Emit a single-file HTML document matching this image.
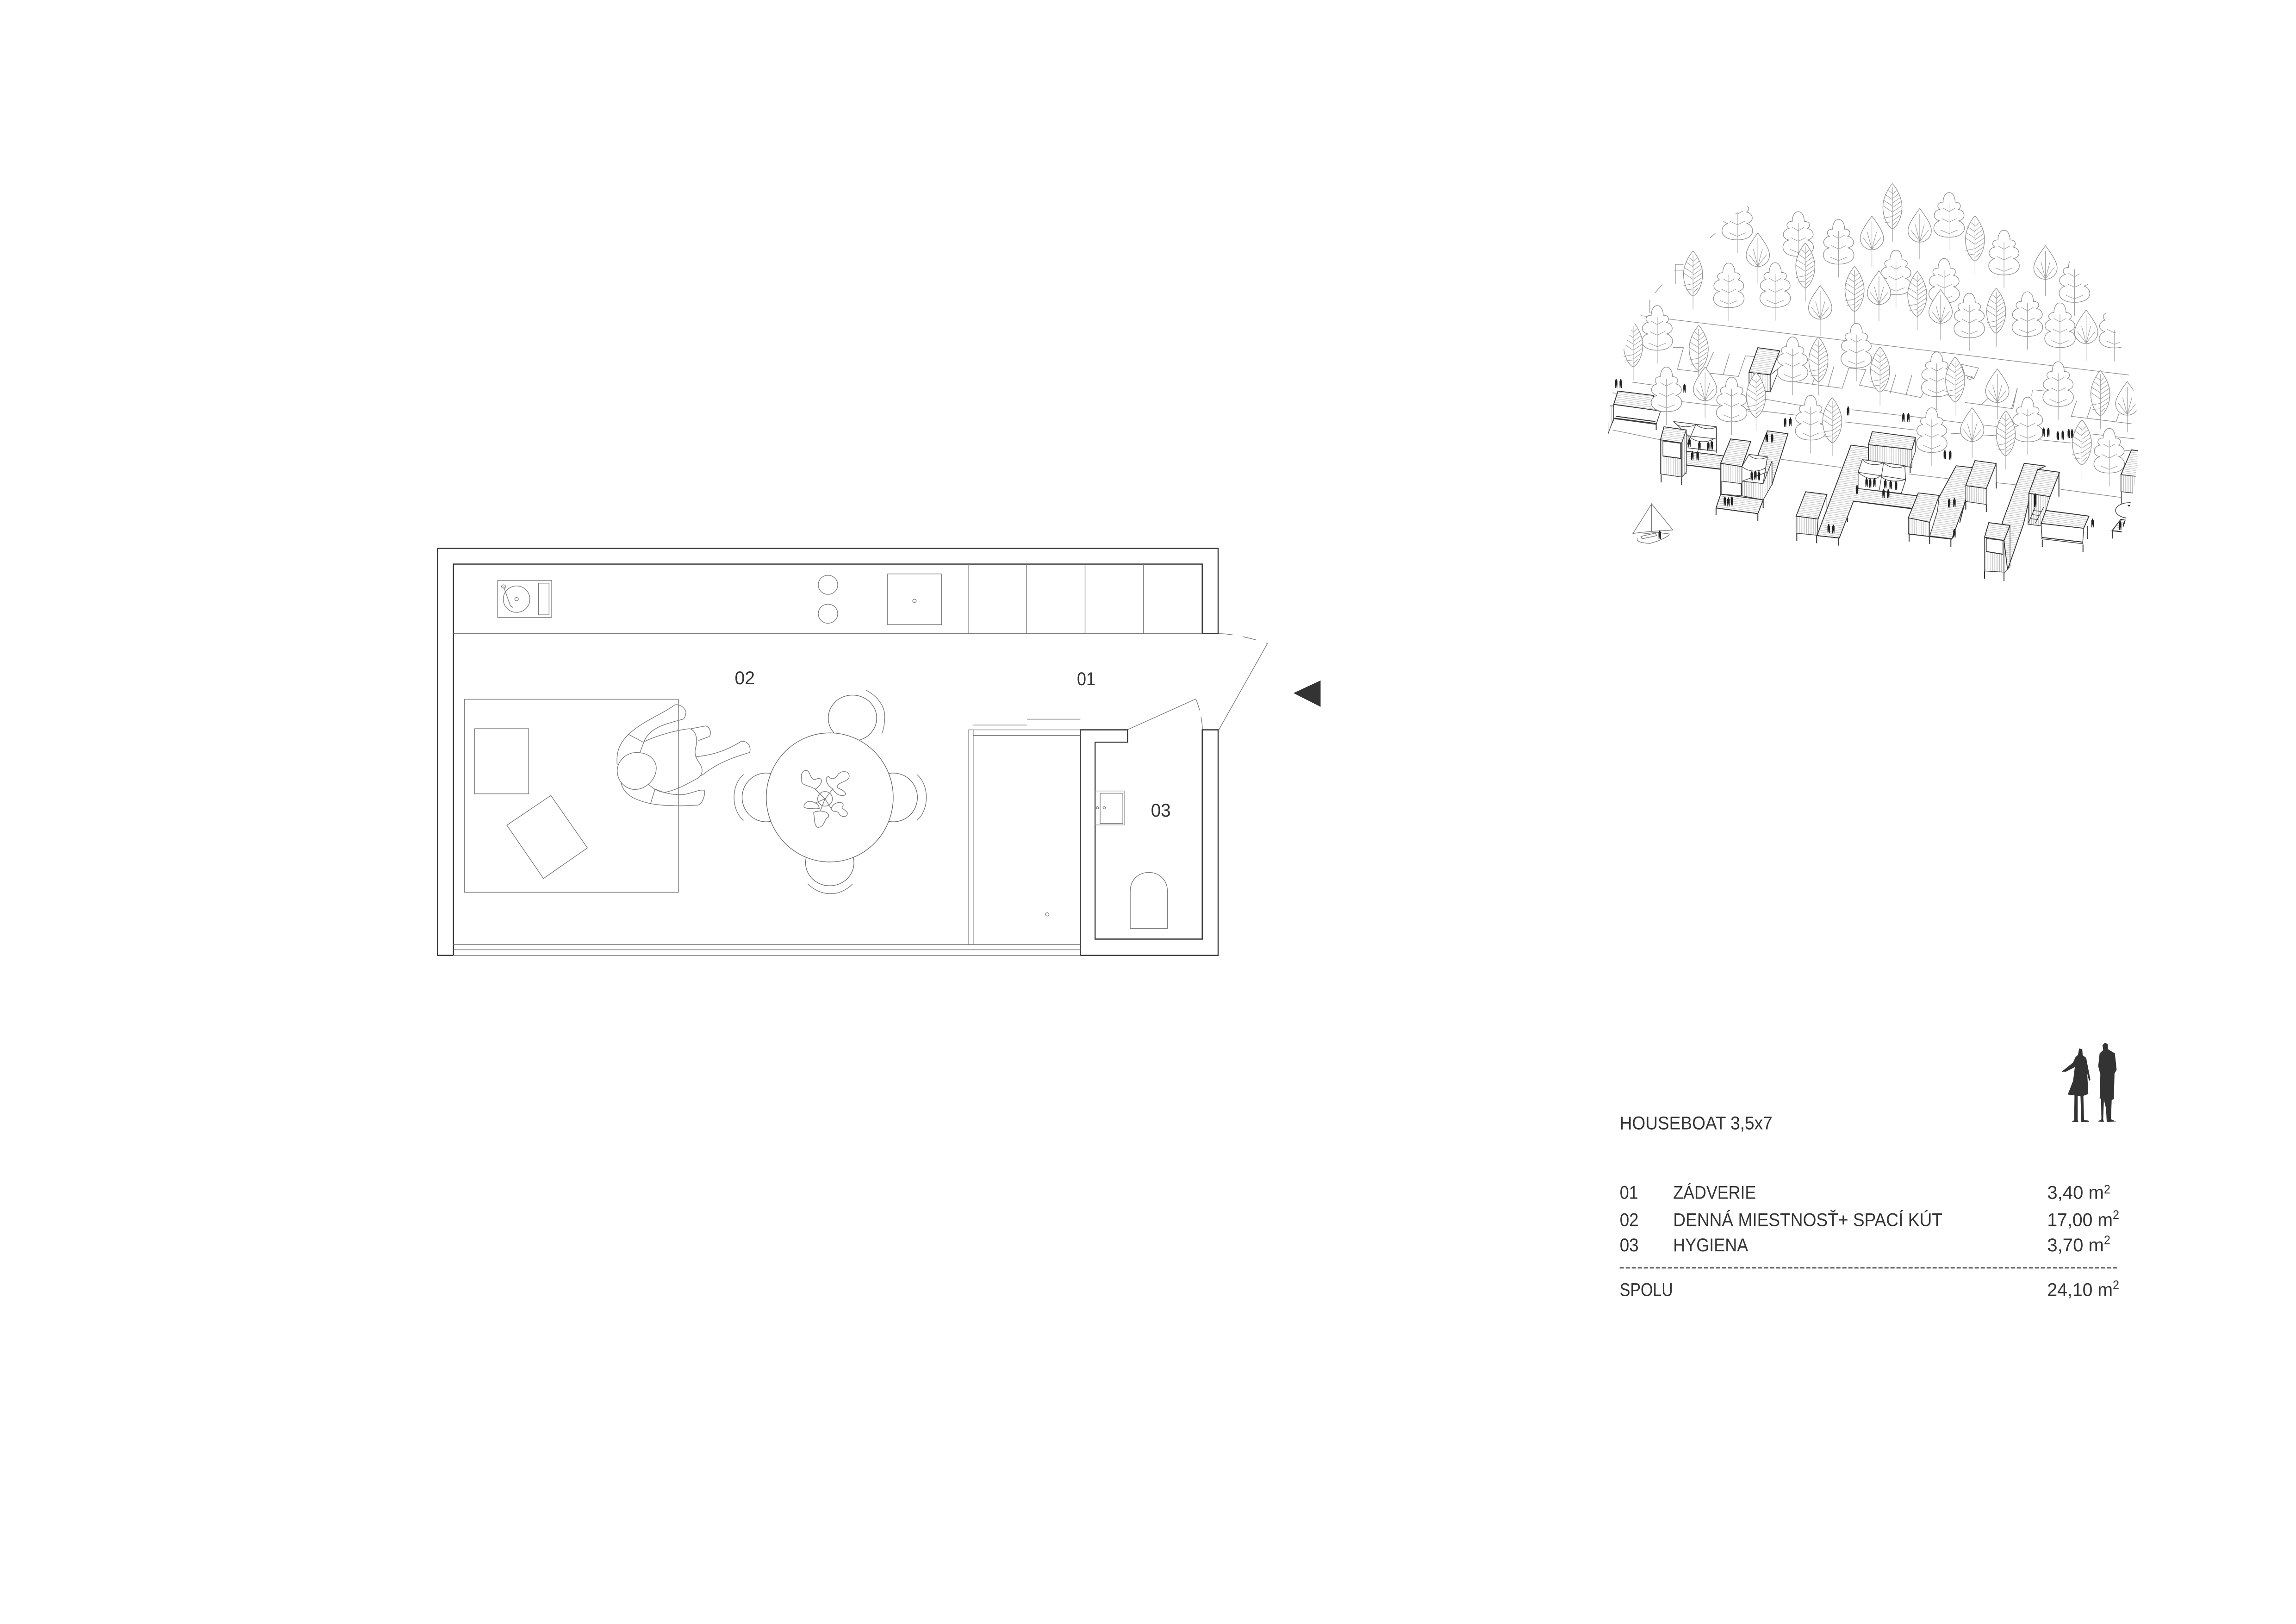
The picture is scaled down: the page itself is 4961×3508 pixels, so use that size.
<!DOCTYPE html>
<html><head><meta charset="utf-8"><title>Houseboat 3,5x7</title>
<style>
html,body{margin:0;padding:0;background:#fff}
svg{display:block}
svg *{vector-effect:non-scaling-stroke}
pattern *{vector-effect:none}
.t{font-family:"Liberation Sans",sans-serif;font-size:40px;fill:#333}
.s{font-family:"Liberation Sans",sans-serif;font-size:27px;fill:#333}
.k{fill:none;stroke:#333;stroke-width:2.4}
.l{fill:none;stroke:#777;stroke-width:1.4}
.g{fill:none;stroke:#aaa;stroke-width:1.5}
.c{fill:#fff;stroke:#666;stroke-width:1.4}
.tr{fill:#fff;stroke:#8c8c8c;stroke-width:1.3}
.tl{fill:none;stroke:#999;stroke-width:1.1}
.rd{fill:none;stroke:#8c8c8c;stroke-width:1.3}
.r{fill:url(#h);stroke:#333;stroke-width:1.8}
.w{fill:url(#v);stroke:#444;stroke-width:1.5}
.n{fill:#fff;stroke:#444;stroke-width:1.5}
.e{fill:none;stroke:#333;stroke-width:2}
.b{fill:none;stroke:#444;stroke-width:1.3}
.q{fill:#222}
</style></head><body>
<svg xmlns="http://www.w3.org/2000/svg" width="4961" height="3508" viewBox="0 0 4961 3508">
<defs>
<pattern id="h" patternUnits="userSpaceOnUse" width="40" height="11" patternTransform="skewY(15.6)"><rect width="40" height="11" fill="#fff"/><line x1="0" y1="5.5" x2="40" y2="5.5" stroke="#a8a8a8" stroke-width="2"/></pattern>
<pattern id="v" patternUnits="userSpaceOnUse" width="5" height="40"><rect width="5" height="40" fill="#fff"/><line x1="2.5" y1="0" x2="2.5" y2="40" stroke="#b4b4b4" stroke-width="1.2"/></pattern>
<clipPath id="dome"><circle cx="4047" cy="950" r="573"/></clipPath>
<g id="A">
<path class="tr" d="M0,0C-12,0-17,30-17,55C-30,52-38,78-26,95C-45,102-50,150-26,160C-50,170-55,252 0,252C55,252 50,170 26,160C50,150 45,102 26,95C38,78 30,52 17,55C17,30 12,0 0,0Z"/>
<path class="tl" d="M0,65V327M-17,88L0,107L17,88M-21,147L0,167L21,147M-24,212L0,232L24,212"/>
</g>
<g id="B">
<path class="tr" d="M0,0C-15,40-33,90-33,125C-33,165-15,190 0,190C15,190 33,165 33,125C33,90 15,40 0,0Z"/>
<path class="tl" d="M0,30V285M0,187L-25,122M0,187L25,122M0,187L-13,90M0,187L13,90"/>
</g>
<g id="C">
<path class="tr" d="M0,0C-14,30-27,85-27,130C-27,190-14,240 0,255C14,240 27,190 27,130C27,85 14,30 0,0Z"/>
<path class="tl" d="M0,20V330M0,55L-11,38M0,90L-21,60M0,125L-26,92M0,160L-26,125M0,185L-27,195M0,215L-22,220M0,60L11,38M0,85L18,55M0,110L22,78M0,135L25,100M0,160L26,125M0,185L26,150M0,210L22,178M0,235L14,210"/>
</g>
<path id="p" class="q" d="M-1.5,0H1.5L2,8L3.5,11L3.5,32L3,55H1.2L0,35L-1.2,55H-3L-3.5,32L-3.5,11L-2,8Z"/>
</defs>
<rect width="4961" height="3508" fill="#fff"/>

<!-- floor plan walls (real coordinates) -->
<path class="k" d="M979.7,2063.7H945.3V1184.5H2632V1368.7H2597.7V1218.5H979.7V2063.7"/>
<path class="k" d="M2334.3,2063.7H2632V1576.5H2597.7V2028.5H2366.2V1603.2H2436.4V1576.5H2334.3Z"/>
<path class="l" d="M979.7,1368.7H2597.7M979.7,2040.6H2334.3M979.7,2051.6H2334.3M979.7,2063.7H2334.3"/>

<g transform="translate(900 1150) scale(.63776 .60586)">
<rect class="l" x="275" y="171" width="183" height="132"/>
<rect class="l" x="413" y="181" width="36" height="113"/>
<ellipse class="l" cx="339" cy="238" rx="45" ry="47"/>
<ellipse class="l" cx="339" cy="238" rx="6" ry="6"/>
<ellipse class="l" cx="295" cy="193" rx="7" ry="6"/>
<path class="l" d="M295,193L318,262L327,268"/>
<ellipse class="l" cx="1394" cy="187" rx="33" ry="34"/>
<ellipse class="l" cx="1394" cy="290" rx="33" ry="34"/>
<rect class="l" x="162" y="595" width="725" height="688"/>
<rect class="l" x="197" y="700" width="183" height="232"/>
<path class="l" d="M455,938L579,1125L430,1234L306,1044Z"/>
<!-- person -->
<path class="l" d="M875,615C830,650 770,670 718,720C690,750 675,780 680,830M875,615C890,612 905,620 913,640C912,652 910,660 905,665C860,680 790,690 770,748L757,785M718,720L768,748"/>
<path class="l" d="M768,748C810,725 880,705 925,700C945,705 955,735 945,770C940,795 950,810 960,825C975,850 965,870 950,878C920,895 880,920 840,927C820,925 800,912 785,898"/>
<path class="l" d="M745,785C790,785 815,815 812,845C810,880 780,915 740,917C705,915 680,885 680,850C680,815 710,785 745,785Z"/>
<path class="l" d="M930,700L980,690C995,695 1000,715 992,728L955,742M947,800C990,795 1040,785 1100,745C1125,742 1135,770 1128,785C1080,800 1020,820 965,868"/>
<path class="l" d="M692,890C700,925 720,950 793,967C850,978 910,975 955,972C970,965 980,930 975,920C960,915 940,928 905,935C870,937 840,930 808,915M808,915L793,967"/>
<!-- chairs and table -->
<ellipse class="c" cx="1477" cy="662" rx="82" ry="82"/>
<ellipse class="c" cx="1400" cy="1178" rx="82" ry="82"/>
<ellipse class="c" cx="1185" cy="945" rx="82" ry="87"/>
<ellipse class="c" cx="1615" cy="945" rx="82" ry="87"/>
<ellipse class="c" cx="1400" cy="945" rx="215" ry="230"/>
<path class="l" d="M1522,562C1565,585 1590,625 1586,665C1585,690 1582,705 1576,717M1325,1253C1370,1300 1435,1300 1478,1253M1108,863C1065,900 1065,990 1108,1027M1695,863C1738,900 1738,990 1695,1027"/>
<!-- plant -->
<ellipse class="l" cx="1384" cy="950" rx="25" ry="26"/>
<path class="l" d="M1350,915C1330,900 1300,905 1305,880C1300,860 1310,845 1325,850C1335,860 1335,880 1350,882C1360,875 1375,875 1372,890C1365,905 1355,915 1350,915Z"/>
<path class="l" d="M1410,915C1385,895 1383,875 1395,870C1405,880 1415,885 1430,860C1450,845 1470,855 1465,875C1450,895 1425,890 1425,910C1460,925 1460,940 1440,938C1425,938 1415,922 1410,915Z"/>
<path class="l" d="M1350,965C1330,950 1310,965 1313,980C1330,990 1350,980 1365,985C1360,965 1355,965 1350,965Z"/>
<path class="l" d="M1405,985C1410,960 1450,955 1445,975C1435,985 1450,985 1460,1000C1460,1020 1435,1015 1430,1000C1420,990 1410,1000 1405,985Z"/>
<path class="l" d="M1368,993C1385,995 1400,1000 1395,1015C1380,1020 1385,1050 1360,1052C1345,1045 1350,1020 1345,1000C1350,993 1360,995 1368,993Z"/>
<path class="l" d="M1350,915L1384,950L1410,915M1384,950L1350,965M1384,950L1368,993M1384,950L1405,985"/>
</g>

<g transform="translate(1900 1150) scale(.63776 .60586)">
<rect class="l" x="28" y="148" width="183" height="181"/>
<ellipse class="l" cx="119" cy="244" rx="6" ry="6"/>
<path class="l" d="M301,113V361M498,113V361M697,113V361M895,113V361"/>
<path class="l" d="M1150,361C1200,362 1265,378 1315,396" stroke-dasharray="30 22"/>
<path class="l" d="M1315,396L1150,704M842,703L1072,594"/>
<path class="l" d="M1072,594C1085,625 1093,665 1095,703" stroke-dasharray="26 14"/>
<path class="l" d="M500,666H681M318,687H500"/>
<path class="l" d="M301,704H681M318,724H681M301,704V1470M318,704V1470"/>
<ellipse class="l" cx="569" cy="1362" rx="6" ry="6"/>
<rect class="g" x="733" y="922" width="97" height="121"/>
<rect class="l" x="748" y="930" width="77" height="108"/>
<ellipse class="l" cx="739" cy="982" rx="4" ry="4"/>
<ellipse class="l" cx="762" cy="982" rx="4" ry="4"/>
<path class="l" d="M850,1412V1280C850,1190 976,1190 976,1280V1412Z"/>
<path d="M1403,573L1495,528V622Z" fill="#333"/>
</g>

<text class="t" x="1587.5" y="1478" textLength="43.5" lengthAdjust="spacingAndGlyphs">02</text>
<text class="t" x="2327" y="1480" textLength="40" lengthAdjust="spacingAndGlyphs">01</text>
<text class="t" x="2486.7" y="1764" textLength="43" lengthAdjust="spacingAndGlyphs">03</text>

<!-- axonometric -->
<g clip-path="url(#dome)">
<g transform="translate(3450 370) scale(.7653 .3827)">
<path class="rd" d="M125,815L1503,1150"/>
<path class="rd" d="M215,995H245L228,1118L400,1158L420,1042L445,1045M520,1100L565,1190L693,1225L712,1110L760,1120L742,1207L915,1277L925,1240M1040,1305L1175,1340L1187,1225M1230,1235L1228,1270M1355,1295L1340,1383L1510,1425M1240,1235L1290,1245"/>
<path class="rd" d="M330,1020L302,1145M375,1030L357,1150M670,1100L653,1215M630,1090L608,1205M845,1145L828,1255M890,1150L873,1265M1145,1205L1085,1320M1188,1225L1172,1335M1475,1365L1467,1410M1395,1330L1385,1390M218,558H245M222,525V635M245,525H222M150,725V800M185,640L165,685M335,350L320,375"/>
<path class="rd" d="M1030,1090L1078,1110L1065,1170L1040,1150Z"/>
<ellipse class="rd" cx="1054" cy="1165" rx="7" ry="9"/>
</g>
<g transform="translate(3450 750) scale(.7653 .3508)">
<path class="rd" d="M100,215L165,235M40,280L60,285M240,335L570,420M475,320L580,360M720,385L860,420M885,425L1030,465L1180,500M700,460L900,510M1000,530L1130,545M1250,570L1340,590M1400,535L1520,565M45,510L180,570M520,690L690,740M880,780L1030,820M1130,835L1220,855M1310,875L1480,925M1400,620L1520,640"/>
<!-- box 1 -->
<path class="n" d="M48,352L165,388L180,395L168,475L48,440Z"/>
<path class="e" d="M50,437L168,470M54,425L166,458M168,475V510M48,445L28,545"/>
<path class="r" d="M60,270L160,297L165,388L48,352Z"/>
<path class="w" d="M30,360L48,362V440L30,545Z"/>
<!-- box 2 -->
<path class="w" d="M430,155L490,170V275L430,255Z"/>
<path class="r" d="M455,3L517,22L490,170L430,155Z"/>
<path class="b" d="M517,125L490,170V275L517,125"/>
</g>
<g transform="translate(3450 370) scale(.7653 .3827)">
<use href="#C" x="835" y="70"/><use href="#A" x="397" y="135"/><use href="#A" x="995" y="120"/><use href="#B" x="912" y="210"/><use href="#B" x="777" y="253"/><use href="#A" x="569" y="228"/><use href="#C" x="1068" y="252"/><use href="#A" x="683" y="272"/><use href="#B" x="455" y="348"/><use href="#A" x="1150" y="333"/><use href="#B" x="1267" y="420"/><use href="#C" x="589" y="405"/><use href="#A" x="845" y="445"/><use href="#C" x="272" y="450"/><use href="#A" x="981" y="492"/><use href="#A" x="1349" y="488"/><use href="#B" x="797" y="562"/><use href="#A" x="504" y="516"/><use href="#A" x="373" y="518"/><use href="#C" x="728" y="537"/><use href="#C" x="905" y="565"/><use href="#B" x="631" y="645"/><use href="#B" x="971" y="668"/><use href="#C" x="1128" y="660"/><use href="#A" x="1216" y="680"/><use href="#A" x="1052" y="688"/><use href="#B" x="1382" y="783"/><use href="#A" x="1308" y="743"/><use href="#A" x="1462" y="745"/><use href="#A" x="171" y="758"/><use href="#C" x="103" y="850"/><use href="#A" x="733" y="858"/><use href="#C" x="288" y="870"/><use href="#A" x="553" y="935"/><use href="#C" x="626" y="935"/><use href="#C" x="800" y="992"/><use href="#A" x="960" y="1020"/><use href="#B" x="306" y="1105"/><use href="#C" x="1012" y="1048"/><use href="#B" x="1131" y="1115"/><use href="#A" x="1303" y="1075"/><use href="#A" x="197" y="1105"/><use href="#B" x="1498" y="1187"/><use href="#C" x="1422" y="1125"/><use href="#C" x="450" y="1135"/><use href="#A" x="381" y="1162"/><use href="#A" x="604" y="1265"/><use href="#B" x="1060" y="1335"/><use href="#A" x="1217" y="1275"/><use href="#C" x="665" y="1278"/><use href="#A" x="946" y="1335"/><use href="#C" x="1155" y="1352"/><use href="#C" x="1370" y="1403"/><use href="#A" x="1447" y="1451"/>
</g>
<g transform="translate(3450 750) scale(.7653 .3508)">
<!-- cluster 1 -->
<path class="r" d="M482,515L540,533L495,845L410,825L455,665Z"/>
<path class="e" d="M470,940V990M495,845V850"/>
<path class="n" d="M218,458L338,490V640L258,620V545Z"/>
<path class="b" d="M218,458C230,500 265,495 280,475C295,505 325,510 338,490M258,545L338,565M258,545C280,590 310,590 330,565M280,475L255,600M338,490V650"/>
<path class="r" d="M252,640L360,670L350,750L252,725Z"/>
<path class="e" d="M252,725L350,752"/>
<path class="w" d="M180,570L240,590V800L180,780Z"/>
<path class="n" d="M187,578L237,592V685L187,670Z"/>
<path class="e" d="M187,670L237,685M182,785V832M240,800V850M252,640V780"/>
<path class="r" d="M190,490L253,510L240,590L180,570Z"/>
<path class="w" d="M253,510V770L240,800V590Z"/>
<path class="w" d="M350,715L410,735V910L350,905Z"/>
<path class="n" d="M353,825L408,840V915L353,905Z"/>
<path class="r" d="M378,565L435,580L410,735L350,715Z"/>
<path class="n" d="M430,660L482,675L470,840L410,825V735Z"/>
<path class="b" d="M430,660C440,695 470,695 482,675M410,735C430,770 455,770 475,745M410,825L480,770"/>
<path class="w" d="M410,825L470,840L495,700V845L470,940L410,915Z"/>
<path class="r" d="M350,905L470,940L455,1025L337,990Z"/>
<path class="e" d="M337,990L455,1025M337,990V1035M455,1025V1070"/>
<!-- cluster 2 -->
<path class="w" d="M767,600L890,630V740L767,700Z"/>
<path class="r" d="M778,520L900,555L890,630L767,600Z"/>
<path class="b" d="M900,555V640L885,730"/>
<path class="e" d="M885,730V775"/>
<path class="r" d="M718,603L767,617V700L738,870L905,915L890,995L725,948L685,1175L622,1160Z"/>
<path class="e" d="M725,948L890,992M622,1160L685,1175"/>
<path class="n" d="M750,692L870,730L872,820L860,900L738,870V770Z"/>
<path class="b" d="M750,692C765,730 795,730 810,710C825,745 855,750 870,730M738,770L872,815M738,770C765,820 790,820 800,790C815,830 850,830 870,815M810,710L798,880"/>
<path class="w" d="M563,1040L625,1058L622,1158L563,1145Z"/>
<path class="r" d="M590,890L650,907L625,1058L563,1040Z"/>
<path class="b" d="M650,907V1020"/>
<path class="e" d="M565,1145V1192M621,1158V1207M682,1175V1222M708,1050V1075"/>
<path class="r" d="M1015,730L1062,742L1040,955L1003,1180L940,1163L965,930Z"/>
<path class="w" d="M1042,852L1100,870V968L1042,950Z"/>
<path class="r" d="M1068,698L1128,716L1100,870L1042,852Z"/>
<path class="b" d="M1128,716V830"/>
<path class="e" d="M1042,950V1000M1100,968V1015M1128,830V870M1040,950L1025,1080"/>
<path class="w" d="M880,1050L940,1078V1165L880,1150Z"/>
<path class="r" d="M908,897L967,913L940,1078L880,1050Z"/>
<path class="n" d="M967,913L962,1010L940,1165V1078Z"/>
<path class="e" d="M882,1150V1197M940,1165V1212M1000,1180V1230M880,1150L1003,1182"/>
<!-- cluster 3 -->
<path class="r" d="M1207,715L1267,732L1245,755L1225,900L1205,1090L1160,1370L1150,1190L1145,1080Z"/>
<path class="w" d="M1220,900L1280,920L1255,1100L1218,1090Z"/>
<path class="r" d="M1245,752L1307,770L1280,920L1220,900Z"/>
<path class="e" d="M1305,770V920"/>
<path class="b" d="M1238,985L1218,1085M1262,985L1238,1085M1232,1005L1256,1012M1228,1030L1250,1037M1224,1055L1246,1062"/>
<path class="n" d="M1255,1085L1375,1115L1372,1210L1257,1180Z"/>
<path class="e" d="M1258,1172L1372,1200M1258,1185V1230M1373,1215V1260M1385,1100V1180"/>
<path class="r" d="M1268,1005L1390,1040L1375,1115L1255,1085Z"/>
<path class="w" d="M1095,1170L1150,1190V1385L1095,1378Z"/>
<path class="n" d="M1100,1178L1147,1190V1275L1100,1258Z"/>
<path class="e" d="M1100,1258L1147,1275M1095,1380V1425M1150,1390V1440"/>
<path class="r" d="M1107,1080L1167,1097L1150,1190L1095,1170Z"/>
<path class="b" d="M1167,1097V1350L1150,1390"/>
<!-- clipped right box -->
<path class="r" d="M1510,632L1530,638V800L1480,785Z"/>
<path class="w" d="M1480,785L1530,797V905L1480,890Z"/>
<path class="n" d="M1482,890L1530,902V990L1482,975Z"/>
<ellipse class="n" cx="1505" cy="1005" rx="40" ry="48"/>
<circle class="q" cx="1503" cy="976" r="4"/>
<path class="r" d="M1480,1060L1520,1075L1495,1140L1455,1130Z"/>
<path class="e" d="M1457,1130V1178M1455,1130L1495,1140"/>
<!-- sailboat -->
<path class="l" d="M155,965L102,1148C130,1135 190,1130 215,1125L155,965V1140"/>
<path class="l" d="M125,1165L165,1145L170,1160L128,1180ZM115,1175C110,1195 125,1205 150,1208C175,1195 205,1165 205,1150L170,1140L130,1150"/>
<!-- people -->
<use href="#p" x="55" y="195"/><use href="#p" x="68" y="197"/><use href="#p" x="248" y="225"/>
<use href="#p" x="532" y="435"/><use href="#p" x="547" y="432"/><use href="#p" x="710" y="365"/>
<use href="#p" x="866" y="405"/><use href="#p" x="880" y="405"/><use href="#p" x="983" y="635"/><use href="#p" x="998" y="637"/>
<use href="#p" x="1262" y="495"/><use href="#p" x="1275" y="497"/><use href="#p" x="1302" y="518"/><use href="#p" x="1316" y="514"/><use href="#p" x="1333" y="505"/><use href="#p" x="1342" y="505"/>
<use href="#p" x="480" y="530"/><use href="#p" x="495" y="532"/><use href="#p" x="270" y="640"/><use href="#p" x="285" y="642"/>
<use href="#p" x="262" y="560"/><use href="#p" x="290" y="580"/><use href="#p" x="315" y="582"/><use href="#p" x="325" y="575"/>
<use href="#p" x="735" y="850"/><use href="#p" x="810" y="873"/><use href="#p" x="823" y="875"/>
<use href="#p" x="995" y="932"/><use href="#p" x="1010" y="930"/><use href="#p" x="655" y="1090"/><use href="#p" x="668" y="1092"/>
<use href="#p" x="1010" y="1118"/><use href="#p" x="1400" y="1055"/><use href="#p" x="1478" y="1070"/><use href="#p" x="1490" y="1072"/>
<use href="#p" x="178" y="1128"/>
<use href="#p" x="1238" y="900"/><use href="#p" x="1238" y="930"/>
<use href="#p" x="815" y="815"/><use href="#p" x="830" y="820"/><use href="#p" x="845" y="825"/>
<use href="#p" x="362" y="920"/><use href="#p" x="372" y="925"/><use href="#p" x="382" y="920"/>
<use href="#p" x="438" y="765"/><use href="#p" x="448" y="760"/><use href="#p" x="458" y="765"/>
<use href="#p" x="762" y="805"/><use href="#p" x="772" y="810"/><use href="#p" x="784" y="805"/>
</g>
</g>

<!-- scale figures -->
<g transform="translate(3450 2220) scale(.7653 .3954)" fill="#333">
<path d="M1362,113L1371,118L1372,150L1382,165L1388,225L1394,285L1390,290L1385,250L1388,362L1374,372L1376,505L1388,507L1390,514L1368,514L1366,375L1358,372L1358,505L1360,514L1340,516L1348,505L1349,370L1330,365L1345,290L1350,215L1325,240L1313,240L1345,190L1352,160L1359,148Z"/>
<path d="M1435,82L1443,90L1444,118L1463,140L1468,230L1462,250L1460,390L1454,395L1452,500L1466,512L1440,514L1438,440L1432,395L1430,500L1432,514L1415,512L1425,500L1424,385L1420,390L1422,255L1416,210L1420,140L1430,122L1428,95Z"/>
</g>

<!-- legend -->
<text class="t" x="3499.7" y="2439.5" textLength="330" lengthAdjust="spacingAndGlyphs">HOUSEBOAT 3,5x7</text>
<text class="t" x="3499.7" y="2589.7" textLength="40" lengthAdjust="spacingAndGlyphs">01</text>
<text class="t" x="3615.3" y="2589.7" textLength="179" lengthAdjust="spacingAndGlyphs">ZÁDVERIE</text>
<text class="t" x="4423.4" y="2589.7" textLength="122.5" lengthAdjust="spacingAndGlyphs">3,40 m</text>
<text class="s" x="4546" y="2578" textLength="14" lengthAdjust="spacingAndGlyphs">2</text>
<text class="t" x="3499.7" y="2648.6" textLength="41" lengthAdjust="spacingAndGlyphs">02</text>
<text class="t" x="3615.3" y="2648.6" textLength="581.6" lengthAdjust="spacingAndGlyphs">DENNÁ MIESTNOSŤ+ SPACÍ KÚT</text>
<text class="t" x="4423.4" y="2648.6" textLength="141.6" lengthAdjust="spacingAndGlyphs">17,00 m</text>
<text class="s" x="4565" y="2633" textLength="14" lengthAdjust="spacingAndGlyphs">2</text>
<text class="t" x="3499.7" y="2702.8" textLength="41" lengthAdjust="spacingAndGlyphs">03</text>
<text class="t" x="3615.3" y="2702.8" textLength="162" lengthAdjust="spacingAndGlyphs">HYGIENA</text>
<text class="t" x="4423.4" y="2702.8" textLength="122.5" lengthAdjust="spacingAndGlyphs">3,70 m</text>
<text class="s" x="4546" y="2687.4" textLength="14" lengthAdjust="spacingAndGlyphs">2</text>
<line x1="3499.7" y1="2738.8" x2="4578.8" y2="2738.8" stroke="#333" stroke-width="2.5" stroke-dasharray="9 4"/>
<text class="t" x="3499.7" y="2799.3" textLength="115" lengthAdjust="spacingAndGlyphs">SPOLU</text>
<text class="t" x="4423.4" y="2799.3" textLength="141.6" lengthAdjust="spacingAndGlyphs">24,10 m</text>
<text class="s" x="4565" y="2784.7" textLength="14" lengthAdjust="spacingAndGlyphs">2</text>
</svg>
</body></html>
